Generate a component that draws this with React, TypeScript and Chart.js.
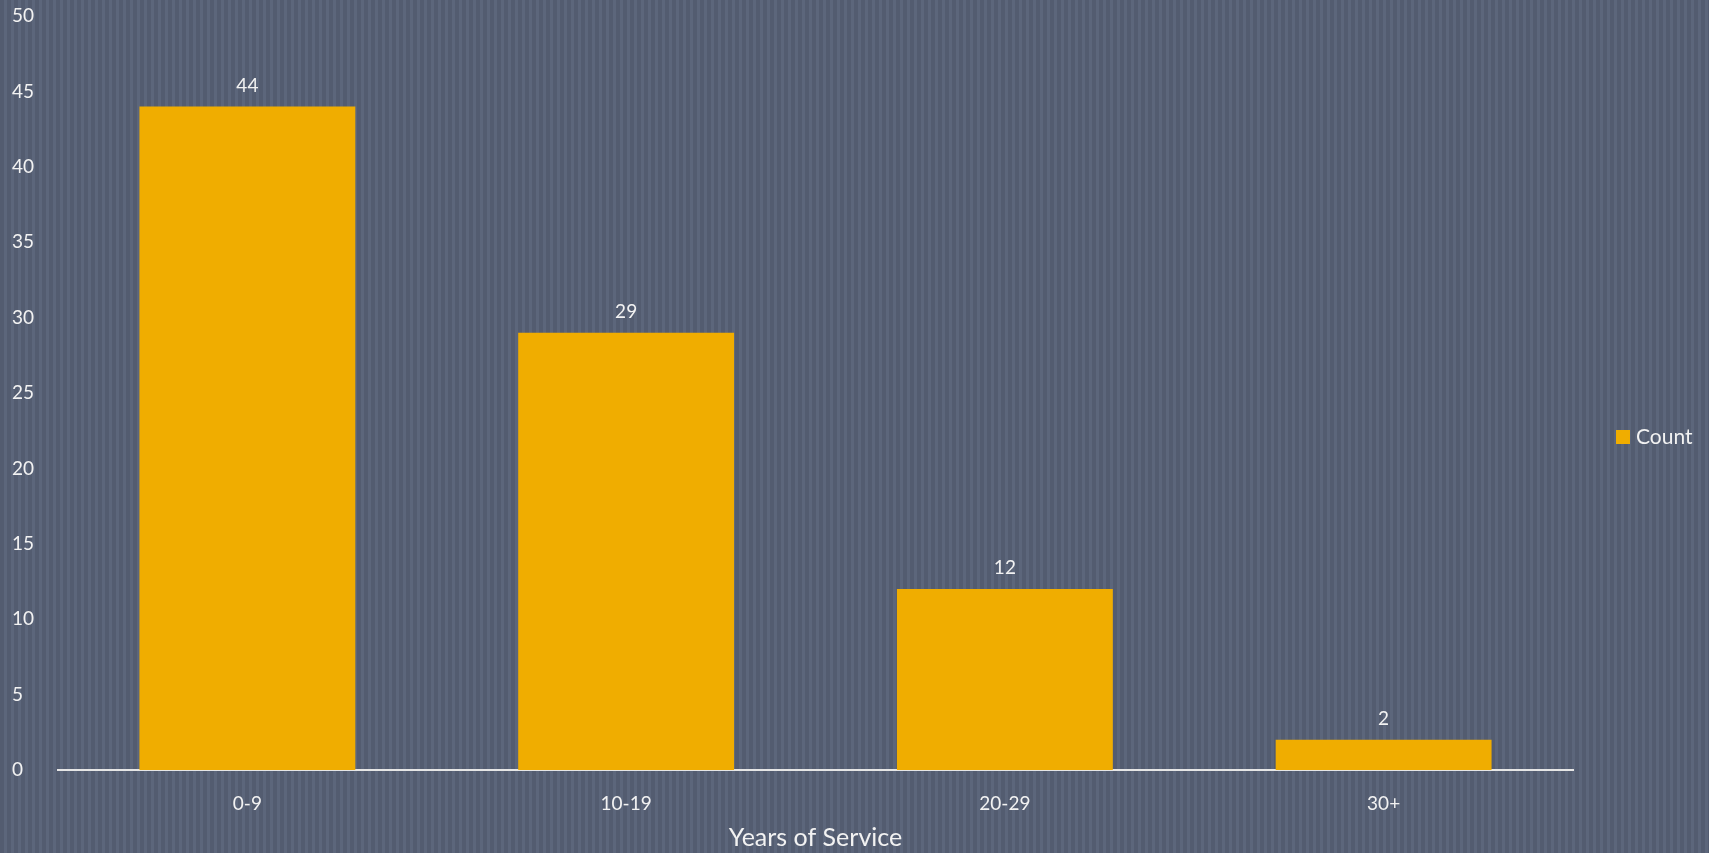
import React, { useEffect, useRef } from "react";
import { Chart, registerables } from "chart.js";

Chart.register(...registerables);

const categories = ["0-9", "10-19", "20-29", "30+"];
const counts = [44, 29, 12, 2];
const seriesName = "Count";
const axisTitle = "Years of Service";
const yMax = 50;
const yStep = 5;

const FONT = "Lato, 'Open Sans', sans-serif";
const TEXT = "#F2F2F2";
const BAR = "#F0AD00";

const valueLabels = {
  id: "valueLabels",
  afterDatasetsDraw(chart: any) {
    const ctx = chart.ctx;
    const meta = chart.getDatasetMeta(0);
    ctx.save();
    ctx.fillStyle = TEXT;
    ctx.font = `19px ${FONT}`;
    ctx.textAlign = "center";
    ctx.textBaseline = "middle";
    meta.data.forEach((bar: any, i: number) => {
      ctx.fillText(String(chart.data.datasets[0].data[i]), bar.x, bar.y - 21);
    });
    ctx.restore();
  },
};

const sideLegend = {
  id: "sideLegend",
  afterDraw(chart: any) {
    const ctx = chart.ctx;
    const x = chart.chartArea.right + 43;
    const y = 437;
    ctx.save();
    ctx.fillStyle = BAR;
    ctx.fillRect(x, y - 7, 14, 14);
    ctx.fillStyle = TEXT;
    ctx.font = `21px ${FONT}`;
    ctx.textAlign = "left";
    ctx.textBaseline = "middle";
    ctx.fillText(chart.data.datasets[0].label, x + 20, y);
    ctx.restore();
  },
};

export default function App() {
  const ref = useRef<HTMLCanvasElement>(null);
  useEffect(() => {
    if (!ref.current) return;
    const chart = new Chart(ref.current, {
      type: "bar",
      data: {
        labels: categories,
        datasets: [
          {
            label: seriesName,
            data: counts,
            backgroundColor: BAR,
            borderWidth: 0,
            barPercentage: 0.57,
            categoryPercentage: 1,
          },
        ],
      },
      options: {
        animation: false,
        responsive: false,
        maintainAspectRatio: false,
        layout: { padding: { left: 12, right: 136, top: 16, bottom: 0 } },
        plugins: {
          legend: { display: false },
          tooltip: { enabled: false },
        },
        scales: {
          x: {
            grid: { display: false, drawTicks: false },
            border: { display: true, color: "#E6E6E6", width: 2 },
            ticks: { color: TEXT, font: { family: FONT, size: 19 }, padding: 22 },
            title: {
              display: true,
              text: axisTitle,
              color: TEXT,
              font: { family: FONT, size: 25 },
              padding: { top: 4, bottom: 0 },
            },
            afterFit(scale: any) {
              scale.height = 83;
            },
          },
          y: {
            min: 0,
            max: yMax,
            grid: { display: false, drawTicks: false },
            border: { display: false },
            ticks: {
              stepSize: yStep,
              color: TEXT,
              font: { family: FONT, size: 19 },
              crossAlign: "far",
              padding: 0,
            },
            afterFit(scale: any) {
              scale.width = 46;
            },
          },
        },
      },
      plugins: [valueLabels, sideLegend],
    });
    return () => chart.destroy();
  }, []);

  return (
    <div
      style={{
        position: "fixed",
        left: 0,
        top: 0,
        width: 1709,
        height: 853,
        background:
          "repeating-linear-gradient(90deg, #535C70 0px, #535C70 4px, #5C667B 4px, #5C667B 7px)",
      }}
    >
      <canvas ref={ref} width={1709} height={853} style={{ display: "block" }} />
    </div>
  );
}
